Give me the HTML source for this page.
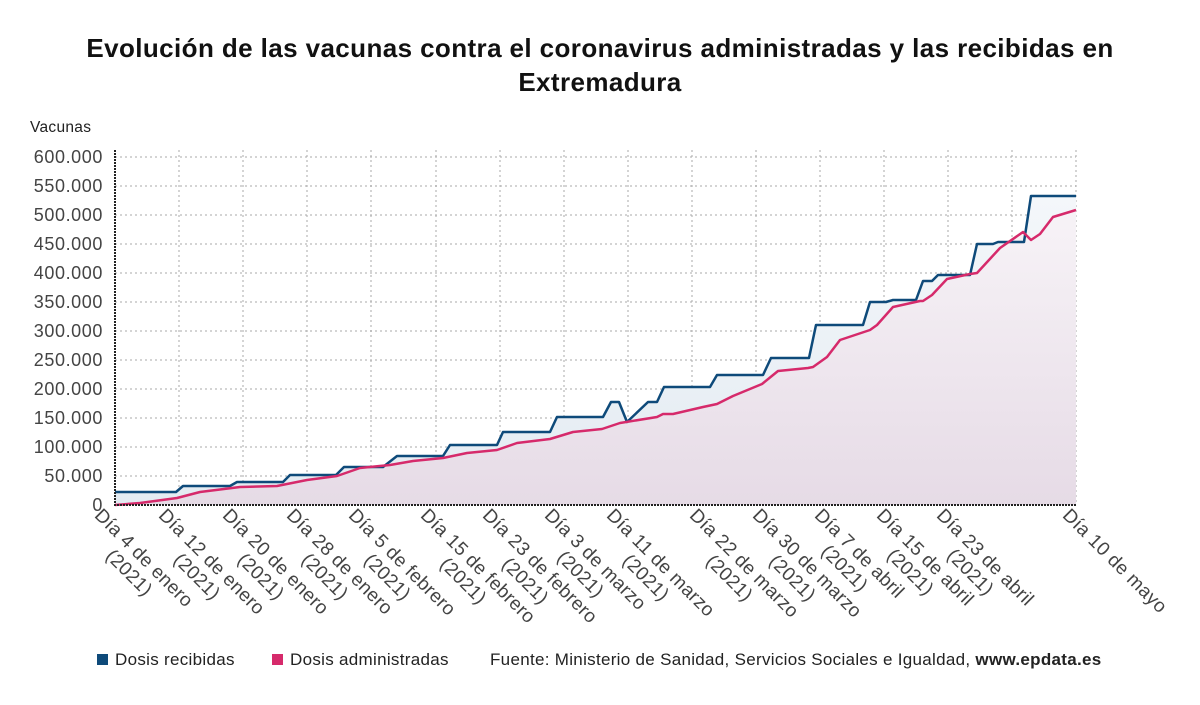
<!DOCTYPE html>
<html><head><meta charset="utf-8"><style>
body{margin:0;width:1200px;height:705px;background:#fff;font-family:"Liberation Sans",sans-serif;position:relative;overflow:hidden;color:#333}
.t{position:absolute;left:0;width:1200px;text-align:center;font-weight:bold;font-size:26px;letter-spacing:0.4px;color:#111;line-height:34px;top:31px}
.yl{position:absolute;right:1097px;font-size:18px;letter-spacing:0.6px;color:#444;line-height:17px}
.xl{position:absolute;top:505px;transform-origin:0 0;transform:rotate(45deg);font-size:19px;letter-spacing:0.3px;color:#444;line-height:21px;text-align:center;white-space:nowrap}
.lg{position:absolute;top:650px;font-size:17px;letter-spacing:0.3px;color:#222}
.sq{display:inline-block;width:11px;height:11px;margin-right:7px;vertical-align:0}
</style></head><body>
<div class="t">Evolución de las vacunas contra el coronavirus administradas y las recibidas en<br>Extremadura</div>
<div style="position:absolute;left:30px;top:119px;font-size:15.5px;letter-spacing:0.3px;color:#222">Vacunas</div>
<svg style="position:absolute;left:0;top:0" width="1200" height="705">
<defs>
<linearGradient id="gb" x1="0" y1="0" x2="0" y2="1"><stop offset="0" stop-color="#f4f7fa"/><stop offset="1" stop-color="#e3ebf2"/></linearGradient>
<linearGradient id="gr" x1="0" y1="0" x2="0" y2="1"><stop offset="0" stop-color="#f7f3f7"/><stop offset="1" stop-color="#e6dbe6"/></linearGradient>
</defs>
<g stroke="#aaa" stroke-width="1" stroke-dasharray="2,3">
<line x1="115" x2="1076" y1="157" y2="157"/><line x1="115" x2="1076" y1="186" y2="186"/><line x1="115" x2="1076" y1="215" y2="215"/><line x1="115" x2="1076" y1="244" y2="244"/><line x1="115" x2="1076" y1="273" y2="273"/><line x1="115" x2="1076" y1="302" y2="302"/><line x1="115" x2="1076" y1="331" y2="331"/><line x1="115" x2="1076" y1="360" y2="360"/><line x1="115" x2="1076" y1="389" y2="389"/><line x1="115" x2="1076" y1="418" y2="418"/><line x1="115" x2="1076" y1="447" y2="447"/><line x1="115" x2="1076" y1="476" y2="476"/>
<line y1="150" y2="505" x1="179" x2="179"/><line y1="150" y2="505" x1="243" x2="243"/><line y1="150" y2="505" x1="307" x2="307"/><line y1="150" y2="505" x1="371" x2="371"/><line y1="150" y2="505" x1="436" x2="436"/><line y1="150" y2="505" x1="500" x2="500"/><line y1="150" y2="505" x1="564" x2="564"/><line y1="150" y2="505" x1="628" x2="628"/><line y1="150" y2="505" x1="692" x2="692"/><line y1="150" y2="505" x1="756" x2="756"/><line y1="150" y2="505" x1="820" x2="820"/><line y1="150" y2="505" x1="884" x2="884"/><line y1="150" y2="505" x1="948" x2="948"/><line y1="150" y2="505" x1="1012" x2="1012"/><line y1="150" y2="505" x1="1076" x2="1076"/>
</g>
<polygon fill="url(#gb)" points="115,505 115,492 176,492 183,486 230,486 237,482 283,482 290,475 336,475 344,467 383,467 397,456 443,456 450,445 497,445 503,432 550,432 557,417 603,417 611,402 619,402 627,422 648,402 657,402 664,387 710,387 717,375 763,375 771,358 809,358 816,325 863,325 870,302 886,302 893,300 916,300 923,281 932,281 938,275 970,275 977,244 993,244 998,242 1024,242 1031,196 1076,196 1076,505"/>
<polygon fill="url(#gr)" points="115,505 140,503 177,498 200,492 240,487 277,486 307,480 337,476 360,468 390,465 413,461 443,458 467,453 497,450 517,443 550,439 573,432 602,429 620,423 657,417 663,414 673,414 703,407 717,404 733,396 762,384 778,371 808,368 813,367 827,357 840,340 870,330 877,325 893,307 920,301 923,301 932,295 947,279 970,274 977,273 1000,248 1023,232 1031,240 1040,234 1053,217 1076,210 1076,505"/>
<polyline fill="none" stroke="#0e4a7a" stroke-width="2.5" stroke-linejoin="round" points="115,492 176,492 183,486 230,486 237,482 283,482 290,475 336,475 344,467 383,467 397,456 443,456 450,445 497,445 503,432 550,432 557,417 603,417 611,402 619,402 627,422 648,402 657,402 664,387 710,387 717,375 763,375 771,358 809,358 816,325 863,325 870,302 886,302 893,300 916,300 923,281 932,281 938,275 970,275 977,244 993,244 998,242 1024,242 1031,196 1076,196"/>
<polyline fill="none" stroke="#d62a6b" stroke-width="2.5" stroke-linejoin="round" points="115,505 140,503 177,498 200,492 240,487 277,486 307,480 337,476 360,468 390,465 413,461 443,458 467,453 497,450 517,443 550,439 573,432 602,429 620,423 657,417 663,414 673,414 703,407 717,404 733,396 762,384 778,371 808,368 813,367 827,357 840,340 870,330 877,325 893,307 920,301 923,301 932,295 947,279 970,274 977,273 1000,248 1023,232 1031,240 1040,234 1053,217 1076,210"/>
<line x1="115" y1="150" x2="115" y2="506" stroke="#222" stroke-width="2" stroke-dasharray="2,1"/>
<line x1="114" y1="505" x2="1076" y2="505" stroke="#222" stroke-width="2" stroke-dasharray="2,1"/>
</svg>
<div class="yl" style="top:149px">600.000</div><div class="yl" style="top:178px">550.000</div><div class="yl" style="top:207px">500.000</div><div class="yl" style="top:236px">450.000</div><div class="yl" style="top:265px">400.000</div><div class="yl" style="top:294px">350.000</div><div class="yl" style="top:323px">300.000</div><div class="yl" style="top:352px">250.000</div><div class="yl" style="top:381px">200.000</div><div class="yl" style="top:410px">150.000</div><div class="yl" style="top:439px">100.000</div><div class="yl" style="top:468px">50.000</div><div class="yl" style="top:497px">0</div>
<div class="xl" style="left:105px">Día 4 de enero<br>(2021)</div>
<div class="xl" style="left:169px">Día 12 de enero<br>(2021)</div>
<div class="xl" style="left:233px">Día 20 de enero<br>(2021)</div>
<div class="xl" style="left:297px">Día 28 de enero<br>(2021)</div>
<div class="xl" style="left:359px">Día 5 de febrero<br>(2021)</div>
<div class="xl" style="left:431px">Día 15 de febrero<br>(2021)</div>
<div class="xl" style="left:493px">Día 23 de febrero<br>(2021)</div>
<div class="xl" style="left:555px">Día 3 de marzo<br>(2021)</div>
<div class="xl" style="left:617px">Día 11 de marzo<br>(2021)</div>
<div class="xl" style="left:700px">Día 22 de marzo<br>(2021)</div>
<div class="xl" style="left:763px">Día 30 de marzo<br>(2021)</div>
<div class="xl" style="left:825px">Día 7 de abril<br>(2021)</div>
<div class="xl" style="left:887px">Día 15 de abril<br>(2021)</div>
<div class="xl" style="left:947px">Día 23 de abril<br>(2021)</div>
<div class="xl" style="left:1073px">Día 10 de mayo</div>
<div class="lg" style="left:97px"><span class="sq" style="background:#0e4a7a"></span>Dosis recibidas</div>
<div class="lg" style="left:272px"><span class="sq" style="background:#d62a6b"></span>Dosis administradas</div>
<div class="lg" style="left:490px">Fuente: Ministerio de Sanidad, Servicios Sociales e Igualdad, <b>www.epdata.es</b></div>
</body></html>
